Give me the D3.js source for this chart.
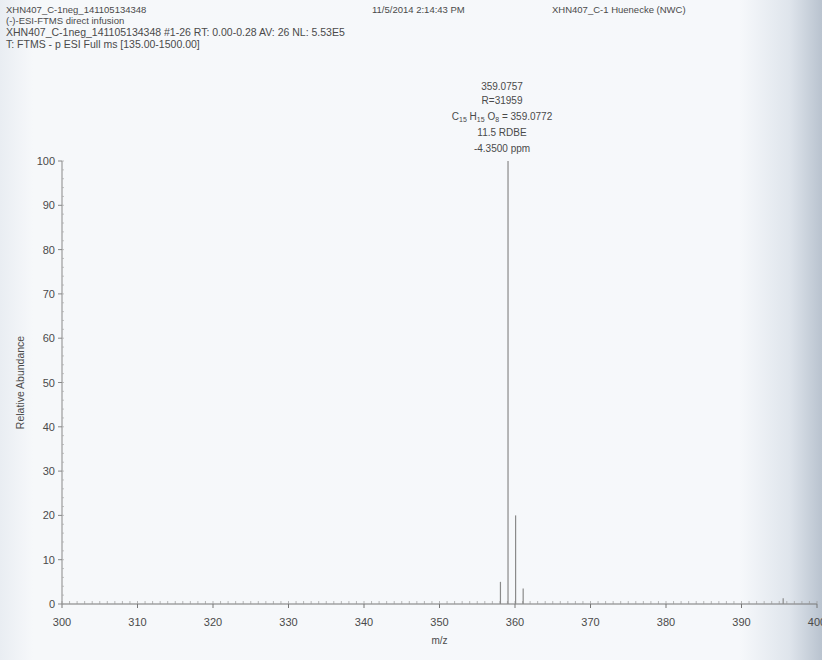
<!DOCTYPE html>
<html>
<head>
<meta charset="utf-8">
<script src="https://cdn.jsdelivr.net/npm/d3@7"></script>
<style>
  body { margin: 0; background: #fff; }
  svg text { font-family: "Liberation Sans", Arial, sans-serif; fill: #4a4a4a; }
</style>
</head>
<body>
<div id="chart"></div>
<script>
// spectrum peaks (m/z, relative abundance %)
const peakMz = [358.072, 359.0757, 360.079, 361.082, 395.52];
const peakAbundance = [5, 100, 20, 3.5, 1.3];

const xTicks = [300, 310, 320, 330, 340, 350, 360, 370, 380, 390, 400];
const yTicks = [0, 10, 20, 30, 40, 50, 60, 70, 80, 90, 100];

const headerLines = [
    "XHN407_C-1neg_141105134348",
    "(-)-ESI-FTMS direct infusion",
    "XHN407_C-1neg_141105134348 #1-26   RT: 0.00-0.28   AV: 26   NL: 5.53E5",
    "T: FTMS - p ESI Full ms [135.00-1500.00]"
];
const headerDate = "11/5/2014 2:14:43 PM";
const headerSample = "XHN407_C-1 Huenecke (NWC)";
const peakNotes = ["359.0757", "R=31959", null, "11.5 RDBE", "-4.3500 ppm"];

const W = 822, H = 660;
const svg = d3.select("#chart").append("svg")
    .attr("width", W)
    .attr("height", H);

// scanned paper background with darker edges
const defs = svg.append("defs");
const grad = defs.append("linearGradient").attr("id", "paper");
grad.append("stop").attr("offset", "0").attr("stop-color", "#e9edf2");
grad.append("stop").attr("offset", "0.04").attr("stop-color", "#f6f8fa");
grad.append("stop").attr("offset", "0.9").attr("stop-color", "#f6f8fb");
grad.append("stop").attr("offset", "0.96").attr("stop-color", "#dfe5ec");
grad.append("stop").attr("offset", "1").attr("stop-color", "#b9c3cf");
svg.append("rect").attr("width", W).attr("height", H).attr("fill", "url(#paper)");

const x = d3.scaleLinear().domain([300, 400]).range([62, 817]);
const y = d3.scaleLinear().domain([0, 100]).range([604, 161]);

// header text
svg.append("text").attr("x", 6).attr("y", 13).attr("font-size", 9.5).text(headerLines[0]);
svg.append("text").attr("x", 6).attr("y", 24).attr("font-size", 9.5).text(headerLines[1]);
svg.append("text").attr("x", 6).attr("y", 36).attr("font-size", 10.5).text(headerLines[2]);
svg.append("text").attr("x", 6).attr("y", 48).attr("font-size", 10.5).text(headerLines[3]);
svg.append("text").attr("x", 372).attr("y", 13).attr("font-size", 9.5).text(headerDate);
svg.append("text").attr("x", 552).attr("y", 13).attr("font-size", 9.5).text(headerSample);

// x axis
const xAxis = svg.append("g").attr("transform", `translate(0,${y(0)})`);
xAxis.append("line")
    .attr("x1", x(300)).attr("x2", x(400))
    .attr("stroke", "#777").attr("stroke-width", 1);
xAxis.selectAll(".minor")
    .data(d3.range(300, 400.01, 1))
    .join("line")
    .attr("x1", d => x(d)).attr("x2", d => x(d))
    .attr("y1", -3).attr("y2", 0)
    .attr("stroke", "#999").attr("stroke-width", 0.7);
xAxis.selectAll(".major")
    .data(xTicks)
    .join("line")
    .attr("x1", d => x(d)).attr("x2", d => x(d))
    .attr("y1", 0).attr("y2", 4)
    .attr("stroke", "#777");
xAxis.selectAll("text")
    .data(xTicks)
    .join("text")
    .attr("x", d => x(d))
    .attr("y", 22)
    .attr("text-anchor", "middle")
    .attr("font-size", 11)
    .text(d => d);

svg.append("text")
    .attr("x", x(350)).attr("y", 644)
    .attr("text-anchor", "middle")
    .attr("font-size", 10)
    .text("m/z");

// y axis
const yAxis = svg.append("g").attr("transform", `translate(${x(300)},0)`);
yAxis.append("line")
    .attr("y1", y(0)).attr("y2", y(100))
    .attr("stroke", "#888").attr("stroke-width", 1);
yAxis.selectAll(".minor")
    .data(d3.range(0, 100.01, 2))
    .join("line")
    .attr("y1", d => y(d)).attr("y2", d => y(d))
    .attr("x1", 0).attr("x2", 2)
    .attr("stroke", "#aaa").attr("stroke-width", 0.7);
yAxis.selectAll(".major")
    .data(yTicks)
    .join("line")
    .attr("y1", d => y(d)).attr("y2", d => y(d))
    .attr("x1", -4).attr("x2", 0)
    .attr("stroke", "#888");
yAxis.selectAll("text")
    .data(yTicks)
    .join("text")
    .attr("x", -7)
    .attr("y", d => y(d) + 4)
    .attr("text-anchor", "end")
    .attr("font-size", 11)
    .text(d => d);

svg.append("text")
    .attr("transform", `translate(24,${y(50)}) rotate(-90)`)
    .attr("text-anchor", "middle")
    .attr("font-size", 10.5)
    .text("Relative Abundance");

// peaks
svg.append("g").selectAll("line")
    .data(peakMz)
    .join("line")
    .attr("x1", d => x(d)).attr("x2", d => x(d))
    .attr("y1", y(0))
    .attr("y2", (d, i) => y(peakAbundance[i]))
    .attr("stroke", "#8a8a8a")
    .attr("stroke-width", 1.2);

// base peak annotation
const ax = x(peakMz[1]) - 6;
const noteY = [90, 104, 120, 136, 152];
peakNotes.forEach((t, i) => {
    if (t === null) return;
    svg.append("text")
        .attr("x", ax).attr("y", noteY[i])
        .attr("text-anchor", "middle")
        .attr("font-size", 10)
        .text(t);
});
const formula = svg.append("text")
    .attr("x", ax).attr("y", noteY[2])
    .attr("text-anchor", "middle")
    .attr("font-size", 10);
formula.append("tspan").text("C");
formula.append("tspan").attr("font-size", 7).attr("dy", 2).text("15");
formula.append("tspan").attr("dy", -2).text(" H");
formula.append("tspan").attr("font-size", 7).attr("dy", 2).text("15");
formula.append("tspan").attr("dy", -2).text(" O");
formula.append("tspan").attr("font-size", 7).attr("dy", 2).text("8");
formula.append("tspan").attr("dy", -2).text(" = 359.0772");
</script>
</body>
</html>
